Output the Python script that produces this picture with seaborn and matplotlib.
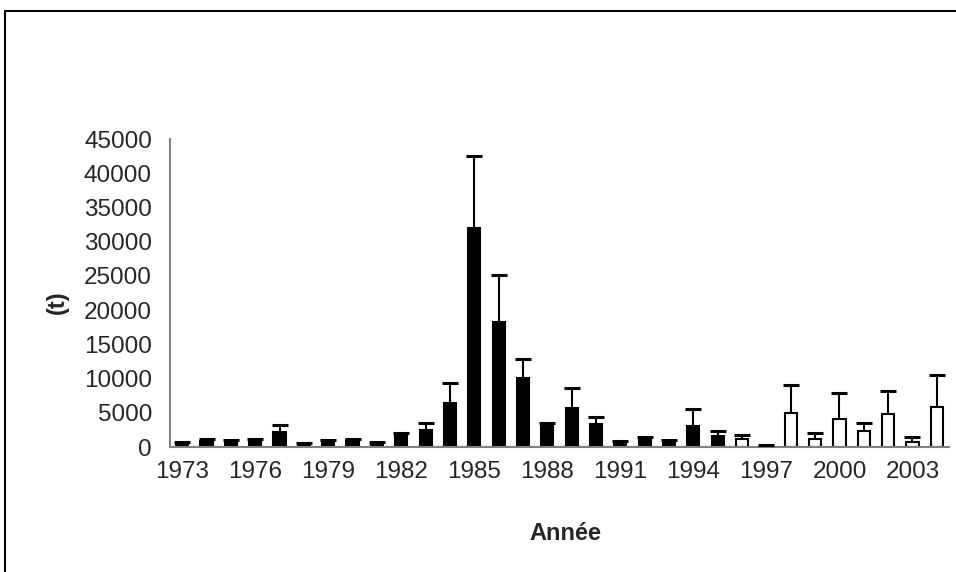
import matplotlib
matplotlib.use("Agg")
import matplotlib.pyplot as plt
import seaborn as sns
import pandas as pd
import numpy as np
from matplotlib.patches import Rectangle
from matplotlib.ticker import FixedLocator, NullFormatter

years = list(range(1973, 2005))
values = [600, 900, 850, 950, 2200, 550, 850, 950, 600, 1600, 2450,
          6500, 32000, 18300, 10100, 3000, 5650, 3300, 800, 950, 900,
          3000, 1600, 1100, 200, 5000, 1100, 4150, 2400, 4750, 750, 5850]
errors = [100, 200, 100, 200, 1000, 80, 100, 200, 80, 500, 1100,
          2900, 10500, 6900, 2800, 500, 2900, 1150, 100, 500, 100,
          2550, 750, 650, 50, 4050, 950, 3750, 1100, 3450, 700, 4700]
series = ["Série 1" if y <= 1995 else "Série 2" for y in years]
tick_labels = [str(y) if (y - 1973) % 3 == 0 else "" for y in years]

df = pd.DataFrame({"Année": [str(y) for y in years], "t": values, "serie": series})

sns.set_style("white")
plt.rcParams["font.family"] = ["Liberation Sans", "DejaVu Sans"]

fig = plt.figure(figsize=(9.56, 5.72), dpi=100)
ax = fig.add_axes([170 / 956, 1 - 447 / 572, 779 / 956, 308 / 572])

sns.barplot(data=df, x="Année", y="t", hue="serie", dodge=False,
            palette={"Série 1": "black", "Série 2": "white"},
            edgecolor="black", linewidth=1.5, width=0.5, legend=False, ax=ax)

pos = np.arange(len(years))
eb = ax.errorbar(pos, values, yerr=[np.zeros(len(errors)), errors], fmt="none",
                 ecolor="black", elinewidth=1.5, capsize=5.8, capthick=2.2, zorder=3)
# keep only the upper caps (Excel "plus" error bars)
eb[1][0].set_visible(False)

ax.set_xlim(-0.5, len(years) - 0.5)
ax.set_ylim(0, 45000)
ax.set_yticks(range(0, 45001, 5000))
ax.set_xticks(pos)
ax.set_xticklabels(tick_labels)
ax.xaxis.set_minor_locator(FixedLocator(np.arange(-0.5, len(years), 1.0)))
ax.xaxis.set_minor_formatter(NullFormatter())

ax.tick_params(axis="x", which="major", length=0, pad=10, labelsize=17.5)
ax.tick_params(axis="x", which="minor", length=6, width=1.2, color="#808080", direction="out")
ax.tick_params(axis="y", length=6, width=1.2, color="#808080", direction="out", pad=7, labelsize=17.5)

for s in ["top", "right"]:
    ax.spines[s].set_visible(False)
for s in ["left", "bottom"]:
    ax.spines[s].set_color("#808080")
    ax.spines[s].set_linewidth(1.5)

ax.set_xlabel("Année", fontsize=17, fontweight="bold")
ax.set_ylabel("(t)", fontsize=17, fontweight="bold")
ax.xaxis.set_label_coords(0.507, -0.245)
ax.yaxis.set_label_coords(-0.13, 0.47)

fig.patches.append(Rectangle((5 / 956, -0.1), 2.0, 1.1 - 11 / 572,
                             transform=fig.transFigure, fill=False,
                             edgecolor="black", linewidth=1.5, clip_on=False))

fig.savefig("out.png", dpi=100)
